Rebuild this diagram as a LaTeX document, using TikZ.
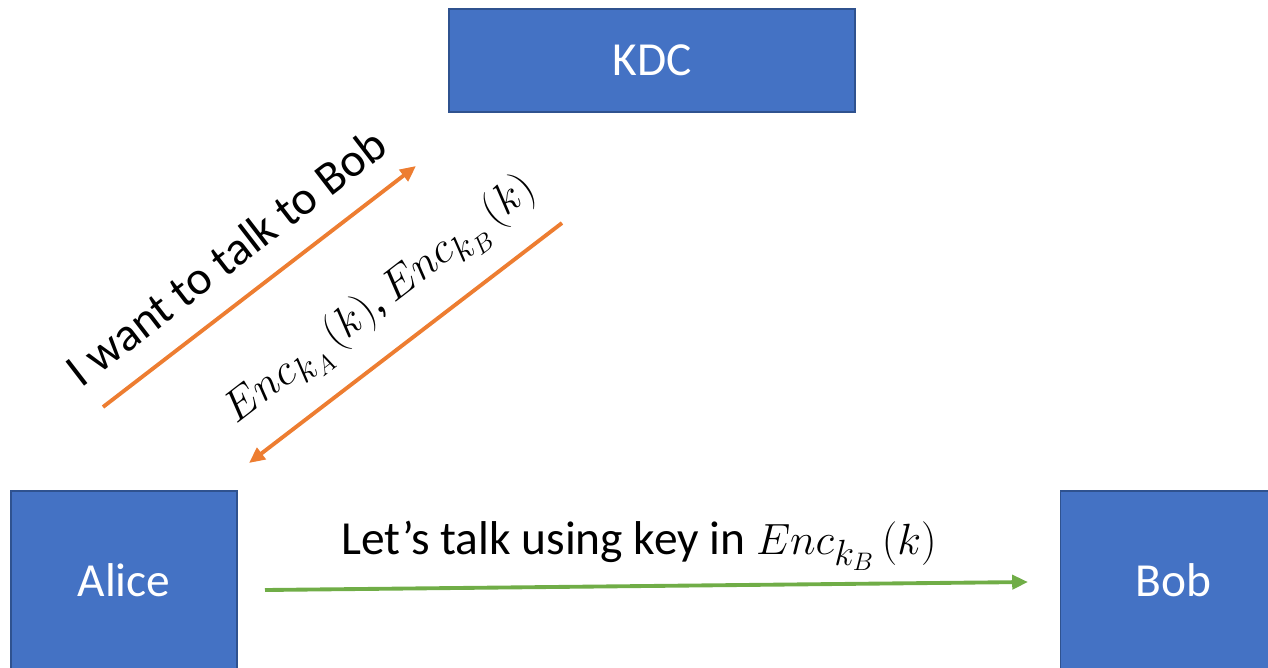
\documentclass[tikz,border=0pt]{standalone}
\usepackage{amsmath}
\usepackage{fontspec}
\setmainfont{Carlito}
\usepackage{tikz}
\usetikzlibrary{arrows.meta,positioning}

\definecolor{boxblue}{HTML}{4472C4}
\definecolor{boxedge}{HTML}{2F528F}
\definecolor{msgorange}{HTML}{ED7D31}
\definecolor{msggreen}{HTML}{70AD47}

\newcommand{\enckey}[1]{{\fontsize{31}{36}\selectfont$Enc_{k_{#1}}\,(k)$}}

\begin{document}
\begin{tikzpicture}[x=0.02cm,y=-0.02cm,>={Triangle[length=9pt,width=8pt]},
                    every node/.style={font=\fontsize{27}{32}\selectfont},
                    party/.style={draw=boxedge,line width=0.8pt,fill=boxblue,text=white,inner sep=0pt},
                    msg/.style={->,line width=2.2pt},
                    lbl/.style={inner sep=0pt}]

\useasboundingbox (0,0) rectangle (1268,667);
\clip (0,0) rectangle (1268,667);

\node[party, minimum width=8.12cm, minimum height=2.06cm] (KDC) at (652,60.5) {KDC};
\node[party, minimum width=4.52cm, minimum height=3.56cm] (Alice) at (124,580) {Alice};
\node[party, minimum width=4.52cm, minimum height=3.56cm] (Bob) [right=16.44cm of Alice] {Bob};

% loose ends of the messages
\coordinate (reqS)  at (103,407);
\coordinate (reqE)  at (416,166);
\coordinate (repS)  at (562,223);
\coordinate (repE)  at (249,463);
\coordinate (talkS) at (265,590);
\coordinate (talkE) at (1028,582);

\path
	(reqS) edge[msg, msgorange] (reqE)
	(repS) edge[msg, msgorange] (repE);

\path
	(talkS) edge[msg, msggreen] (talkE);

\node[lbl, rotate=37.6] (reqLbl) at (226,257) {I want to talk to Bob};
\node[lbl, rotate=37.6] (repLbl) at (382,302) {\enckey{A},\,\enckey{B}};
\node[lbl] (talkLbl) at (639,546) {Let’s talk using key in \enckey{B}};

\end{tikzpicture}
\end{document}
